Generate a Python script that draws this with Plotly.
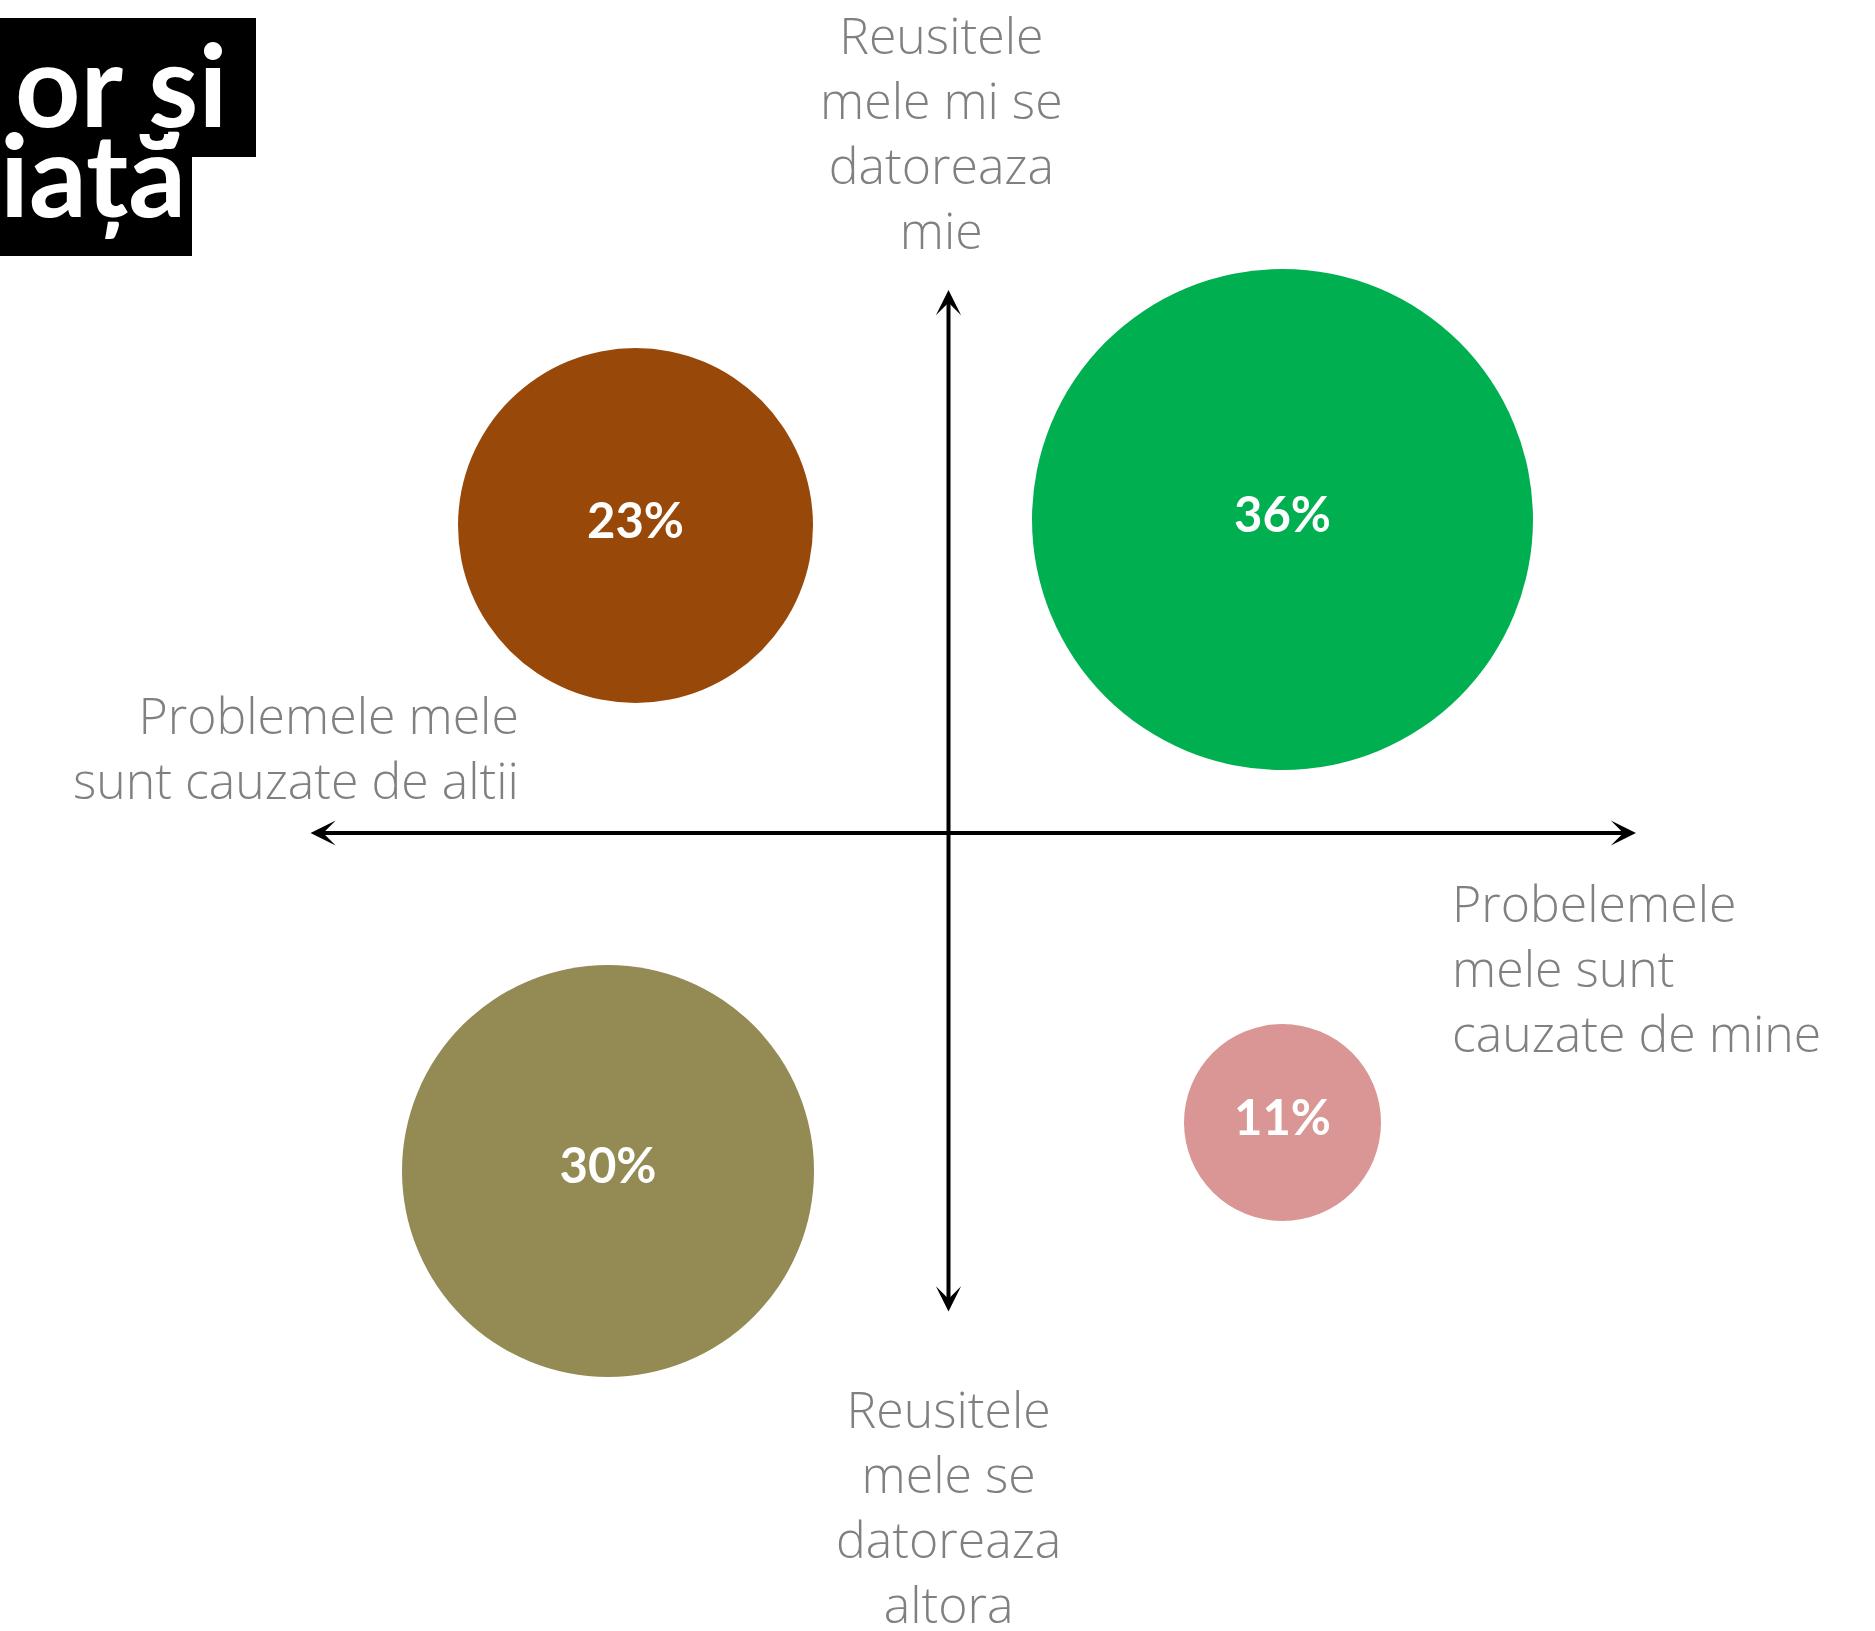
import plotly.graph_objects as go

# ---- data ----
quadrants = ["succes intern / probleme externe", "succes intern / probleme interne",
             "succes extern / probleme externe", "succes extern / probleme interne"]
values = [23, 36, 30, 11]
x_score = [-3.13, 3.34, -3.405, 3.34]
y_score = [3.075, 3.135, -3.38, -2.895]
value_labels = [f"{v}%" for v in values]

axis_top = "Reusitele<br>mele mi se<br>datoreaza<br>mie"
axis_bottom = "Reusitele<br>mele se<br>datoreaza<br>altora"
axis_left = "Problemele mele<br>sunt cauzate de altii"
axis_right = "Probelemele<br>mele sunt<br>cauzate de mine"
title_line1 = "or și"
title_line2 = "iață"

# ---- styling ----
W, H = 1875, 1631
colors = ["#984809", "#00B050", "#948A54", "#D99694"]
diameters = [355, 501, 412, 197]
GRAY = "#808080"
LABEL_SIZE = 50


def px(x):
    return x / W


def py(y):
    return 1 - y / H


fig = go.Figure()
fig.add_trace(go.Scatter(
    x=x_score, y=y_score, mode="markers+text",
    text=value_labels, textposition="middle center",
    textfont=dict(family="Lato", size=49, color="white", weight="bold"),
    marker=dict(size=diameters, color=colors, line=dict(width=0), opacity=1),
    hoverinfo="skip", showlegend=False, cliponaxis=False,
))

annotations = []
# axes arrows (double-headed)
annotations.append(dict(x=6.875, y=0, ax=-6.395, ay=0, xref="x", yref="y", axref="x", ayref="y",
                        text="", showarrow=True, arrowside="end+start", arrowhead=3, startarrowhead=3,
                        arrowwidth=4, arrowsize=1.05, startarrowsize=1.05, arrowcolor="black"))
annotations.append(dict(x=0, y=5.43, ax=0, ay=-4.80, xref="x", yref="y", axref="x", ayref="y",
                        text="", showarrow=True, arrowside="end+start", arrowhead=3, startarrowhead=3,
                        arrowwidth=4, arrowsize=1.05, startarrowsize=1.05, arrowcolor="black"))

lab_font = dict(family="Open Sans", size=LABEL_SIZE, color=GRAY, weight=300)
annotations.append(dict(text=axis_top, xref="paper", yref="paper", x=px(941), y=py(132),
                        xanchor="center", yanchor="middle", align="center", showarrow=False, font=lab_font))
annotations.append(dict(text=axis_bottom, xref="paper", yref="paper", x=px(948.5), y=py(1506),
                        xanchor="center", yanchor="middle", align="center", showarrow=False, font=lab_font))
annotations.append(dict(text=axis_left, xref="paper", yref="paper", x=px(521), y=py(747),
                        xanchor="right", yanchor="middle", align="right", showarrow=False, font=lab_font))
annotations.append(dict(text=axis_right, xref="paper", yref="paper", x=px(1450), y=py(968),
                        xanchor="left", yanchor="middle", align="left", showarrow=False, font=lab_font))

title_font = dict(family="Lato", size=114, color="white", weight="bold")
annotations.append(dict(text=title_line1, xref="paper", yref="paper", x=px(229), y=py(83),
                        xanchor="right", yanchor="middle", showarrow=False, font=title_font))
annotations.append(dict(text=title_line2, xref="paper", yref="paper", x=px(188), y=py(173),
                        xanchor="right", yanchor="middle", showarrow=False, font=title_font))

shapes = [
    dict(type="rect", xref="paper", yref="paper", x0=0, x1=px(256), y0=py(157), y1=py(18),
         fillcolor="black", line=dict(width=0), layer="below"),
    dict(type="rect", xref="paper", yref="paper", x0=0, x1=px(192), y0=py(256), y1=py(157),
         fillcolor="black", line=dict(width=0), layer="below"),
]

fig.update_layout(
    width=W, height=H, margin=dict(l=0, r=0, t=0, b=0),
    paper_bgcolor="white", plot_bgcolor="white",
    xaxis=dict(range=[-9.485, 9.265], visible=False, showgrid=False, zeroline=False, fixedrange=True),
    yaxis=dict(range=[-7.98, 8.33], visible=False, showgrid=False, zeroline=False, fixedrange=True),
    annotations=annotations, shapes=shapes,
)

fig.write_html("out.html")
